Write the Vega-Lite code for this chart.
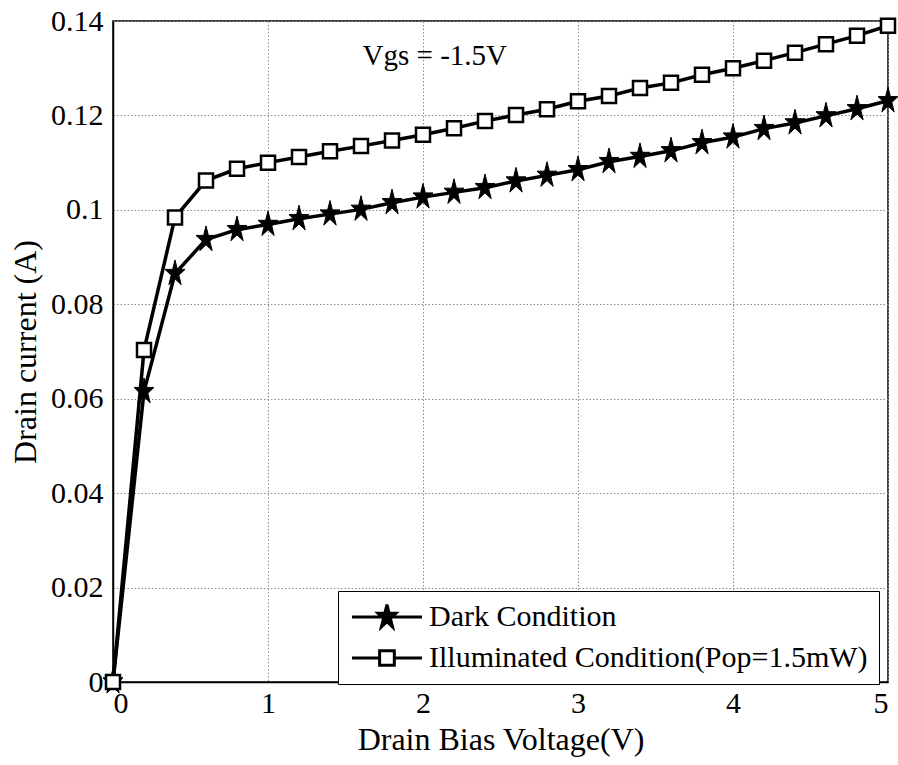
{
  "$schema": "https://vega.github.io/schema/vega-lite/v6.json",
  "width": 775,
  "height": 661,
  "autosize": {"type": "none"},
  "padding": {"left": 113, "top": 21, "right": 10, "bottom": 83},
  "background": "white",
  "config": {
    "view": {"stroke": "black", "strokeWidth": 1.5},
    "font": "Liberation Serif",
    "axis": {
      "labelFont": "Liberation Serif",
      "titleFont": "Liberation Serif",
      "labelFontSize": 30,
      "titleFontSize": 32,
      "titleFontWeight": "normal",
      "labelColor": "black",
      "titleColor": "black",
      "domainColor": "black",
      "domainWidth": 1.5,
      "ticks": false,
      "gridColor": "#8c8c8c",
      "gridDash": [1.5, 2],
      "gridWidth": 1
    },
    "legend": {
      "orient": "none",
      "legendX": 225,
      "legendY": 570,
      "padding": 11,
      "rowPadding": 10,
      "labelOffset": 50,
      "labelFont": "Liberation Serif",
      "labelFontSize": 30,
      "labelColor": "black",
      "labelLimit": 0,
      "symbolSize": 196,
      "symbolOpacity": 1,
      "symbolStrokeWidth": 3,
      "symbolStrokeColor": "black",
      "strokeColor": "black",
      "fillColor": "white"
    }
  },
  "data": {
    "values": [
      {"v": 0.0, "i": 0.0, "s": "Dark Condition"},
      {"v": 0.2, "i": 0.0615, "s": "Dark Condition"},
      {"v": 0.4, "i": 0.0865, "s": "Dark Condition"},
      {"v": 0.6, "i": 0.0937, "s": "Dark Condition"},
      {"v": 0.8, "i": 0.0958, "s": "Dark Condition"},
      {"v": 1.0, "i": 0.0969, "s": "Dark Condition"},
      {"v": 1.2, "i": 0.0981, "s": "Dark Condition"},
      {"v": 1.4, "i": 0.0991, "s": "Dark Condition"},
      {"v": 1.6, "i": 0.1001, "s": "Dark Condition"},
      {"v": 1.8, "i": 0.1015, "s": "Dark Condition"},
      {"v": 2.0, "i": 0.1027, "s": "Dark Condition"},
      {"v": 2.2, "i": 0.1037, "s": "Dark Condition"},
      {"v": 2.4, "i": 0.1047, "s": "Dark Condition"},
      {"v": 2.6, "i": 0.1061, "s": "Dark Condition"},
      {"v": 2.8, "i": 0.1073, "s": "Dark Condition"},
      {"v": 3.0, "i": 0.1085, "s": "Dark Condition"},
      {"v": 3.2, "i": 0.1102, "s": "Dark Condition"},
      {"v": 3.4, "i": 0.1113, "s": "Dark Condition"},
      {"v": 3.6, "i": 0.1125, "s": "Dark Condition"},
      {"v": 3.8, "i": 0.1142, "s": "Dark Condition"},
      {"v": 4.0, "i": 0.1154, "s": "Dark Condition"},
      {"v": 4.2, "i": 0.1172, "s": "Dark Condition"},
      {"v": 4.4, "i": 0.1184, "s": "Dark Condition"},
      {"v": 4.6, "i": 0.1199, "s": "Dark Condition"},
      {"v": 4.8, "i": 0.1214, "s": "Dark Condition"},
      {"v": 5.0, "i": 0.1231, "s": "Dark Condition"},
      {"v": 0.0, "i": 0.0, "s": "Illuminated Condition(Pop=1.5mW)"},
      {"v": 0.2, "i": 0.0703, "s": "Illuminated Condition(Pop=1.5mW)"},
      {"v": 0.4, "i": 0.0984, "s": "Illuminated Condition(Pop=1.5mW)"},
      {"v": 0.6, "i": 0.1062, "s": "Illuminated Condition(Pop=1.5mW)"},
      {"v": 0.8, "i": 0.1087, "s": "Illuminated Condition(Pop=1.5mW)"},
      {"v": 1.0, "i": 0.1100, "s": "Illuminated Condition(Pop=1.5mW)"},
      {"v": 1.2, "i": 0.1112, "s": "Illuminated Condition(Pop=1.5mW)"},
      {"v": 1.4, "i": 0.1124, "s": "Illuminated Condition(Pop=1.5mW)"},
      {"v": 1.6, "i": 0.1135, "s": "Illuminated Condition(Pop=1.5mW)"},
      {"v": 1.8, "i": 0.1147, "s": "Illuminated Condition(Pop=1.5mW)"},
      {"v": 2.0, "i": 0.1159, "s": "Illuminated Condition(Pop=1.5mW)"},
      {"v": 2.2, "i": 0.1173, "s": "Illuminated Condition(Pop=1.5mW)"},
      {"v": 2.4, "i": 0.1188, "s": "Illuminated Condition(Pop=1.5mW)"},
      {"v": 2.6, "i": 0.1201, "s": "Illuminated Condition(Pop=1.5mW)"},
      {"v": 2.8, "i": 0.1213, "s": "Illuminated Condition(Pop=1.5mW)"},
      {"v": 3.0, "i": 0.1230, "s": "Illuminated Condition(Pop=1.5mW)"},
      {"v": 3.2, "i": 0.1241, "s": "Illuminated Condition(Pop=1.5mW)"},
      {"v": 3.4, "i": 0.1258, "s": "Illuminated Condition(Pop=1.5mW)"},
      {"v": 3.6, "i": 0.1269, "s": "Illuminated Condition(Pop=1.5mW)"},
      {"v": 3.8, "i": 0.1286, "s": "Illuminated Condition(Pop=1.5mW)"},
      {"v": 4.0, "i": 0.1300, "s": "Illuminated Condition(Pop=1.5mW)"},
      {"v": 4.2, "i": 0.1316, "s": "Illuminated Condition(Pop=1.5mW)"},
      {"v": 4.4, "i": 0.1333, "s": "Illuminated Condition(Pop=1.5mW)"},
      {"v": 4.6, "i": 0.1351, "s": "Illuminated Condition(Pop=1.5mW)"},
      {"v": 4.8, "i": 0.1369, "s": "Illuminated Condition(Pop=1.5mW)"},
      {"v": 5.0, "i": 0.1390, "s": "Illuminated Condition(Pop=1.5mW)"}
    ]
  },
  "encoding": {
    "x": {
      "field": "v", "type": "quantitative",
      "scale": {"domain": [0, 5], "nice": false, "zero": false},
      "axis": {"title": "Drain Bias Voltage(V)", "values": [0, 1, 2, 3, 4, 5], "format": "d", "labelPadding": 6, "titlePadding": 6, "grid": true}
    },
    "y": {
      "field": "i", "type": "quantitative",
      "scale": {"domain": [0, 0.14], "nice": false},
      "axis": {"title": "Drain current (A)", "values": [0, 0.02, 0.04, 0.06, 0.08, 0.1, 0.12, 0.14], "format": ".2~f", "labelPadding": 10, "titlePadding": 8, "grid": true}
    }
  },
  "layer": [
    {
      "mark": {"type": "line", "color": "black", "strokeWidth": 3.5, "clip": false},
      "encoding": {"detail": {"field": "s"}}
    },
    {
      "transform": [{"filter": "datum.s === 'Dark Condition'"}],
      "mark": {"type": "point", "opacity": 1, "fill": "black", "stroke": "black", "strokeWidth": 1, "size": 441, "clip": false,
               "shape": "M0,-1.3L0.2245,-0.402L0.9511,-0.402L0.3633,0.153L0.5878,1.052L0,0.497L-0.5878,1.052L-0.3633,0.153L-0.9511,-0.402L-0.2245,-0.402Z"}
    },
    {
      "transform": [{"filter": "datum.s !== 'Dark Condition'"}],
      "mark": {"type": "point", "opacity": 1, "fill": "white", "stroke": "black", "strokeWidth": 2.5, "size": 196, "shape": "square", "clip": false}
    },
    {
      "mark": {"type": "point", "opacity": 0, "clip": false},
      "encoding": {
        "shape": {
          "field": "s", "type": "nominal",
          "scale": {"domain": ["Dark Condition", "Illuminated Condition(Pop=1.5mW)"],
                    "range": ["M-1.72,0H8.28M3.28,-1.755L3.583,-0.543L4.564,-0.543L3.77,0.207L4.074,1.42L3.28,0.671L2.486,1.42L2.79,0.207L1.996,-0.543L2.977,-0.543Z",
                              "M-1.72,0H2.23M4.33,0H8.28M2.23,-1.05H4.33V1.05H2.23Z"]},
          "legend": {"title": null}
        },
        "fill": {
          "field": "s", "type": "nominal",
          "scale": {"domain": ["Dark Condition", "Illuminated Condition(Pop=1.5mW)"], "range": ["black", "white"]},
          "legend": {"title": null}
        },
        "stroke": {
          "field": "s", "type": "nominal",
          "scale": {"domain": ["Dark Condition", "Illuminated Condition(Pop=1.5mW)"], "range": ["black", "black"]},
          "legend": {"title": null}
        }
      }
    },
    {
      "data": {"values": [{"v": 1.61, "i": 0.1306, "label": "Vgs = -1.5V"}]},
      "mark": {"type": "text", "font": "Liberation Serif", "fontSize": 29, "align": "left", "baseline": "alphabetic", "color": "black"},
      "encoding": {"text": {"field": "label"}}
    }
  ]
}
